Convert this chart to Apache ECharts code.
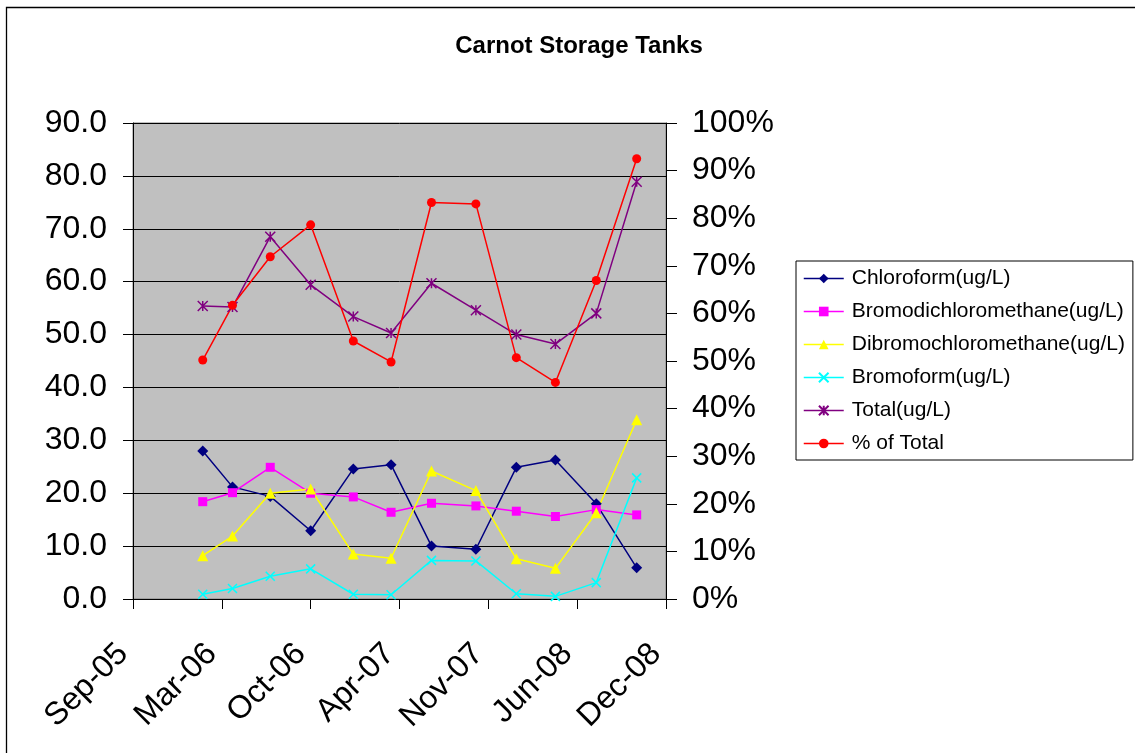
<!DOCTYPE html>
<html>
<head>
<meta charset="utf-8">
<title>Carnot Storage Tanks</title>
<script src="https://cdn.jsdelivr.net/npm/echarts@6/dist/echarts.min.js"></script>
<style>
  html, body { margin: 0; padding: 0; background: #ffffff; }
  #chart { width: 1135px; height: 753px; }
</style>
</head>
<body>
<div id="chart"></div>
<script>
// Sampling dates of the storage tank results
const sampleDates = [
  '2006-02-09', '2006-04-17', '2006-07-11', '2006-10-10',
  '2007-01-14', '2007-04-09', '2007-07-09', '2007-10-17',
  '2008-01-16', '2008-04-13', '2008-07-14', '2008-10-13'
];

// Concentrations in ug/L
const chloroform = [28.0, 21.2, 19.4, 12.9, 24.6, 25.4, 10.0, 9.4, 24.9, 26.3, 18.0, 5.9];
const bromodichloromethane = [18.4, 20.1, 24.9, 20.0, 19.3, 16.4, 18.1, 17.6, 16.6, 15.6, 16.9, 15.9];
const dibromochloromethane = [8.2, 11.9, 20.0, 20.8, 8.5, 7.7, 24.2, 20.5, 7.6, 5.8, 16.3, 33.9];
const bromoform = [0.9, 2.0, 4.3, 5.7, 0.9, 0.8, 7.3, 7.2, 1.0, 0.5, 3.1, 22.9];
const total = [55.4, 55.2, 68.5, 59.4, 53.4, 50.3, 59.7, 54.6, 50.0, 48.2, 54.0, 78.9];

// Percent values on the secondary axis
const percentOfTotal = [50.2, 61.7, 71.9, 78.6, 54.2, 49.8, 83.3, 83.0, 50.7, 45.5, 66.9, 92.5];

// Date axis range as spreadsheet serial day numbers
const dateAxisMin = 38600;
const dateAxisMax = 39800;
const dateAxisStep = 200;

const monthNames = ['Jan', 'Feb', 'Mar', 'Apr', 'May', 'Jun', 'Jul', 'Aug', 'Sep', 'Oct', 'Nov', 'Dec'];
const EPOCH = Date.UTC(1899, 11, 30);
const DAY = 86400000;

function toSerial(iso) {
  const p = iso.split('-').map(Number);
  return Math.round((Date.UTC(p[0], p[1] - 1, p[2]) - EPOCH) / DAY);
}
function serialLabel(v) {
  const d = new Date(EPOCH + v * DAY);
  return monthNames[d.getUTCMonth()] + '-' + String(d.getUTCFullYear() % 100).padStart(2, '0');
}
function pairs(values) {
  return values.map((v, i) => [toSerial(sampleDates[i]), v]);
}

const FONT = "'Liberation Sans', Arial, sans-serif";
const AXIS_FONT_SIZE = 32;
const crossPath = 'path://M0,0 L10,10 M10,0 L0,10';
const asteriskPath = 'path://M0,0 L10,10 M10,0 L0,10 M5,0 L5,10';

function lineSeries(name, values, color, symbol, size, stroked, axisIndex) {
  return {
    name: name,
    type: 'line',
    yAxisIndex: axisIndex || 0,
    data: pairs(values),
    symbol: symbol,
    symbolSize: size,
    showAllSymbol: true,
    lineStyle: { color: color, width: 1.5 },
    itemStyle: stroked
      ? { color: color, borderColor: color, borderWidth: 1.5 }
      : { color: color, borderWidth: 0 },
    emphasis: { disabled: true }
  };
}

const chart = echarts.init(document.getElementById('chart'), null, { renderer: 'canvas' });

chart.setOption({
  animation: false,
  backgroundColor: '#ffffff',
  textStyle: { fontFamily: FONT },
  title: {
    text: 'Carnot Storage Tanks',
    left: 574,
    textAlign: 'center',
    top: 29,
    textStyle: { fontFamily: FONT, fontSize: 24, fontWeight: 'bold', color: '#000' }
  },
  graphic: [{
    type: 'rect',
    shape: { x: 6.5, y: 7.5, width: 1200, height: 800 },
    style: { fill: 'none', stroke: '#000', lineWidth: 1.3 },
    silent: true,
    z: -1
  }],
  legend: {
    orient: 'vertical',
    left: 796,
    top: 261,
    padding: [7, 8, 6, 7],
    itemGap: 12,
    itemWidth: 40,
    itemHeight: 12,
    borderColor: '#000',
    borderWidth: 1,
    backgroundColor: '#fff',
    lineStyle: { width: 1.5 },
    textStyle: { fontFamily: FONT, fontSize: 21, color: '#000', padding: [0, 0, 0, 3] },
    selectedMode: false
  },
  grid: {
    left: 133,
    right: 469,
    top: 123,
    bottom: 154,
    show: true,
    backgroundColor: '#c0c0c0',
    borderColor: '#808080',
    borderWidth: 1
  },
  xAxis: {
    type: 'value',
    min: dateAxisMin,
    max: dateAxisMax,
    interval: dateAxisStep,
    axisLine: { show: true, onZero: false, lineStyle: { color: '#000', width: 1 } },
    axisTick: { show: true, inside: false, length: 10, lineStyle: { color: '#000' } },
    splitLine: { show: false },
    axisLabel: {
      rotate: 45,
      margin: 40,
      padding: [0, 14, 0, 0],
      fontFamily: FONT,
      fontSize: AXIS_FONT_SIZE,
      color: '#000',
      formatter: serialLabel
    }
  },
  yAxis: [{
    type: 'value',
    min: 0,
    max: 90,
    interval: 10,
    position: 'left',
    axisLine: { show: true, lineStyle: { color: '#000', width: 1 } },
    axisTick: { show: true, inside: false, length: 10, lineStyle: { color: '#000' } },
    splitLine: { show: true, lineStyle: { color: '#000', width: 1 } },
    axisLabel: {
      margin: 26,
      fontFamily: FONT,
      fontSize: AXIS_FONT_SIZE,
      color: '#000',
      formatter: v => v.toFixed(1)
    }
  }, {
    type: 'value',
    min: 0,
    max: 100,
    interval: 10,
    position: 'right',
    axisLine: { show: true, lineStyle: { color: '#000', width: 1 } },
    axisTick: { show: true, inside: false, length: 11, lineStyle: { color: '#000' } },
    splitLine: { show: false },
    axisLabel: {
      margin: 26,
      fontFamily: FONT,
      fontSize: AXIS_FONT_SIZE,
      color: '#000',
      formatter: v => v + '%'
    }
  }],
  series: [
    lineSeries('Chloroform(ug/L)', chloroform, '#000080', 'diamond', 11, false),
    lineSeries('Bromodichloromethane(ug/L)', bromodichloromethane, '#ff00ff', 'rect', 9, false),
    lineSeries('Dibromochloromethane(ug/L)', dibromochloromethane, '#ffff00', 'triangle', 11, false),
    lineSeries('Bromoform(ug/L)', bromoform, '#00ffff', crossPath, 9, true),
    lineSeries('Total(ug/L)', total, '#800080', asteriskPath, 10, true),
    lineSeries('% of Total', percentOfTotal, '#ff0000', 'circle', 9, false, 1)
  ]
});
</script>
</body>
</html>
